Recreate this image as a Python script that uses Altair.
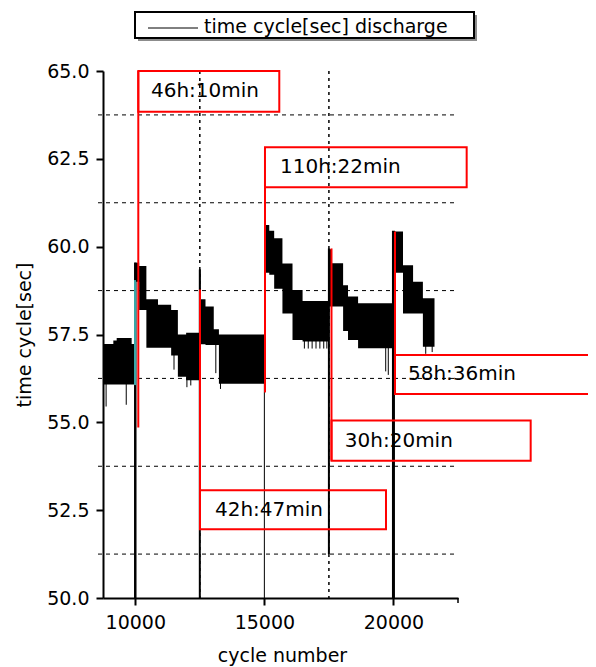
import altair as alt
import pandas as pd

# ---------------- data ----------------
# envelope of the noisy discharge signal (cycle, low, high), per restart segment
band_seg = [1] * 5 + [2] * 8 + [3] * 6 + [4] * 7 + [5] * 6 + [6] * 5
band_cycle = [8750, 9150, 9280, 9860, 10000,
              10000, 10150, 10430, 10880, 11390, 11650, 11970, 12500,
              12500, 12530, 12720, 13040, 13240, 15000,
              15000, 15190, 15380, 15700, 16090, 16480, 17500,
              17500, 17620, 18050, 18240, 18630, 20000,
              20000, 20370, 20760, 21140, 21590]
band_low = [56.08, 56.08, 56.08, 56.08, 56.08,
            59.00, 58.20, 57.12, 57.12, 56.90, 56.30, 56.20, 56.20,
            58.20, 57.22, 57.20, 57.20, 56.10, 56.10,
            59.26, 59.20, 58.80, 58.10, 57.34, 57.30, 57.30,
            58.30, 58.30, 57.60, 57.34, 57.11, 57.11,
            59.26, 58.10, 58.10, 57.15, 57.15]
band_high = [57.23, 57.33, 57.40, 57.23, 57.23,
             59.54, 59.45, 58.50, 58.35, 58.20, 57.50, 57.55, 57.55,
             59.35, 58.50, 58.30, 57.65, 57.50, 57.50,
             60.62, 60.45, 60.24, 59.52, 58.77, 58.45, 58.45,
             59.93, 59.53, 58.90, 58.58, 58.39, 58.39,
             60.43, 59.47, 59.00, 58.53, 58.53]

# isolated downward spikes
spike_cycle = [8870, 9650, 11500, 12000, 12150, 13120, 13300,
               16550, 16700, 16850, 17000, 17150, 17300, 17420,
               19700, 19800, 21250, 21500]
spike_low = [55.45, 55.50, 56.50, 56.00, 56.05, 56.40, 55.95,
             57.10, 57.10, 57.10, 57.10, 57.10, 57.10, 57.10,
             56.45, 56.35, 56.95, 57.00]
spike_high = [56.20, 56.20, 57.20, 56.30, 56.30, 57.30, 56.40,
              57.40, 57.40, 57.40, 57.40, 57.40, 57.40, 57.40,
              57.20, 57.20, 57.20, 57.20]

# vertical drops at each restart of the test
restart_cycle = [10000, 12500, 15000, 17500, 20000]
restart_top = [59.55, 59.35, 57.50, 59.95, 60.45]
restart_bottom = [50.0, 50.0, 50.0, 51.25, 50.0]
restart_width = [2.5, 2, 1, 2, 3]

# red annotations
ann_label = ["46h:10min", "110h:22min", "42h:47min", "30h:20min", "58h:36min"]
ann_cycle = [10117, 15024, 12507, 17600, 20059]
line_top = [65.0, 61.69, 58.78, 59.95, 60.43]
line_bottom = [54.85, 55.85, 51.96, 53.91, 55.81]
box_right = [15578, 22836, 19711, 25315, 27805]
box_top = [65.0, 62.83, 53.07, 55.05, 56.92]
box_bottom = [63.84, 61.69, 51.96, 53.91, 55.81]
text_cycle = [10609, 15605, 13088, 18116, 20563]

# axes
x_ticks = [10000, 15000, 20000]
x_minor = [12500, 17500]
x_minor_ticks = [22500]
y_ticks = [50.0, 52.5, 55.0, 57.5, 60.0, 62.5, 65.0]
y_minor = [51.25, 53.75, 56.25, 58.75, 61.25, 63.75]
legend_label = ["time cycle[sec] discharge"]

# ---------------- frames ----------------
band = pd.DataFrame({"seg": band_seg, "cycle": band_cycle, "low": band_low, "high": band_high})
spikes = pd.DataFrame({"cycle": spike_cycle, "low": spike_low, "high": spike_high})
restarts = pd.DataFrame({"cycle": restart_cycle, "top": restart_top,
                         "bottom": restart_bottom, "w": restart_width})
ann = pd.DataFrame({"label": ann_label, "cycle": ann_cycle, "ltop": line_top, "lbot": line_bottom,
                    "bx2": box_right, "btop": box_top, "bbot": box_bottom, "tx": text_cycle})
ann["tmid"] = (ann["btop"] + ann["bbot"]) / 2
ygrid = pd.DataFrame({"v": y_minor})
xgrid = pd.DataFrame({"v": x_minor})
xmt = pd.DataFrame({"v": x_minor_ticks})
teal = pd.DataFrame({"cycle": [9990], "top": [59.05], "bottom": [56.06]})
leg = pd.DataFrame({"label": legend_label})

W, H = 355, 527
FONT = "DejaVu Sans"
xs = alt.Scale(domain=[8750, 22500], nice=False, zero=False)
ys = alt.Scale(domain=[50, 65], nice=False, zero=False)


def X(f):
    return alt.X(f, type="quantitative", scale=xs, axis=None)


def Y(f):
    return alt.Y(f, type="quantitative", scale=ys, axis=None)


hgrid = alt.Chart(ygrid).mark_rule(color="black", strokeWidth=1, strokeDash=[4, 4]).encode(
    y=Y("v"), x=alt.value(-5), x2=alt.value(W))
vgrid = alt.Chart(xgrid).mark_rule(color="black", strokeWidth=1.5, strokeDash=[3, 4]).encode(
    x=X("v"), y=alt.value(0), y2=alt.value(H + 5))
xminor = alt.Chart(xmt).mark_rule(color="black", strokeWidth=1.5).encode(
    x=X("v"), y=alt.value(H), y2=alt.value(H + 5))

band_layer = alt.Chart(band).mark_area(color="black", interpolate="step-after", opacity=1).encode(
    x=alt.X("cycle:Q", scale=xs,
            axis=alt.Axis(values=x_ticks, format="d", title="cycle number",
                          tickSize=7, tickWidth=2, domainWidth=2, labelPadding=8,
                          titleX=179, titleY=63, titleAlign="center", titleBaseline="alphabetic")),
    y=alt.Y("low:Q", scale=ys,
            axis=alt.Axis(values=y_ticks, format=".1f", title="time cycle[sec]",
                          tickSize=7, tickWidth=2, domainWidth=2, labelPadding=7,
                          titleX=-79, titleY=H / 2, titleAngle=270, titleAlign="center",
                          titleBaseline="middle")),
    y2="high:Q",
    detail="seg:N",
)

spike_layer = alt.Chart(spikes).mark_rule(color="black", strokeWidth=1).encode(
    x=X("cycle"), y=Y("low"), y2="high")
restart_layer = alt.Chart(restarts).mark_rule(color="black").encode(
    x=X("cycle"), y=Y("top"), y2="bottom", strokeWidth=alt.StrokeWidth("w:Q", scale=None))
teal_layer = alt.Chart(teal).mark_rule(color="#38a8a8", strokeWidth=2).encode(
    x=X("cycle"), y=Y("top"), y2="bottom")

red_lines = alt.Chart(ann).mark_rule(color="#ff0000", strokeWidth=2).encode(
    x=X("cycle"), y=Y("ltop"), y2="lbot")
red_boxes = alt.Chart(ann).mark_rect(fillOpacity=0, stroke="#ff0000", strokeWidth=2).encode(
    x=X("cycle"), x2="bx2", y=Y("btop"), y2="bbot")
ann_text = alt.Chart(ann).mark_text(align="left", baseline="middle", fontSize=20,
                                     font=FONT, color="black").encode(
    x=X("tx"), y=Y("tmid"), text="label:N")

# legend box (drawn above the plot area)
leg_shadow = alt.Chart(leg).mark_rect(color="#8c8c8c").encode(
    x=alt.value(35), x2=alt.value(374), y=alt.value(-56), y2=alt.value(-30))
leg_box = alt.Chart(leg).mark_rect(fill="white", stroke="black", strokeWidth=2).encode(
    x=alt.value(32), x2=alt.value(371), y=alt.value(-59), y2=alt.value(-33))
leg_line = alt.Chart(leg).mark_rule(color="black", strokeWidth=1).encode(
    x=alt.value(45), x2=alt.value(95), y=alt.value(-43))
leg_text = alt.Chart(leg).mark_text(align="left", baseline="alphabetic", fontSize=19,
                                     font=FONT, color="black").encode(
    x=alt.value(101), y=alt.value(-38), text="label:N")

chart = alt.layer(
    hgrid, vgrid, xminor, band_layer, spike_layer, restart_layer, teal_layer,
    red_lines, red_boxes, ann_text, leg_shadow, leg_box, leg_line, leg_text
).resolve_axis(x="independent", y="independent").properties(
    width=W, height=H,
    autosize=alt.AutoSizeParams(type="none"),
    padding={"left": 95, "top": 63, "right": 130, "bottom": 69},
).configure(font=FONT).configure_view(strokeWidth=0).configure_axis(
    labelFont=FONT, titleFont=FONT, labelFontSize=19, titleFontSize=19,
    titleFontWeight="normal", labelColor="black", titleColor="black",
    domainColor="black", tickColor="black", grid=False, zindex=1,
)

chart.save("out.html", embed_options={"renderer": "svg", "actions": False})
